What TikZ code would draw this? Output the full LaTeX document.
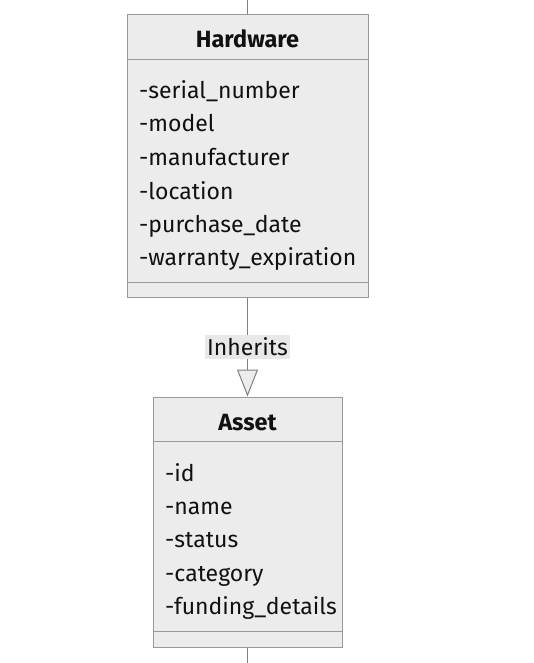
\documentclass[tikz,border=0pt]{standalone}
\usepackage{fontspec}
\setmainfont{Fira Sans}
\usetikzlibrary{arrows.meta}
\definecolor{boxfill}{HTML}{ECECEC}
\definecolor{boxline}{HTML}{9A9A9A}
\definecolor{edgeline}{HTML}{808080}
\definecolor{labelfill}{HTML}{E8E8E8}
\definecolor{txt}{HTML}{111111}
\tikzset{
  classbox/.style={draw=boxline, fill=boxfill, line width=1pt, inner sep=0pt},
  divider/.style={draw=boxline, line width=1pt},
  title/.style={font=\fontsize{23.5}{23.5}\selectfont\bfseries, text=txt, anchor=base, inner sep=0pt},
  attr/.style={font=\fontsize{23}{23}\selectfont, text=txt, anchor=base west, inner sep=0pt},
  edge/.style={draw=edgeline, line width=1pt},
  inh/.style={edge, -{Triangle[length=27pt, width=21pt, fill=boxfill, line width=1pt]}},
  elabel/.style={fill=labelfill, font=\fontsize{23}{23}\selectfont, text=txt, inner xsep=2pt, inner ysep=3pt}
}
\begin{document}
\begin{tikzpicture}[x=1pt, y=-1pt]
\useasboundingbox (0,0) rectangle (534,663);
% Hardware
\node[classbox, minimum width=241pt, minimum height=282pt] (hw) at (247.5,156) {};
\draw[divider] (127,60) -- (368,60);
\draw[divider] (127,282) -- (368,282);
\node[title] (hwt) at (247.5,48) {Hardware};
\node[attr] (a1) at (139,99) {-serial\_number};
\node[attr] (a2) at (139,132) {-model};
\node[attr] (a3) at (139,165.5) {-manufacturer};
\node[attr] (a4) at (139,199) {-location};
\node[attr] (a5) at (139,232) {-purchase\_date};
\node[attr] (a6) at (139,265) {-warranty\_expiration};
% Asset
\node[classbox, minimum width=189pt, minimum height=250pt] (as) at (247.5,522) {};
\draw[divider] (153,441) -- (342,441);
\draw[divider] (153,631) -- (342,631);
\node[title] (ast) at (247.5,430) {Asset};
\node[attr] (b1) at (165,481) {-id};
\node[attr] (b2) at (165,514) {-name};
\node[attr] (b3) at (165,547.5) {-status};
\node[attr] (b4) at (165,581) {-category};
\node[attr] (b5) at (165,614) {-funding\_details};
% connectors
\coordinate (top) at (247.5,0);
\coordinate (bot) at (247.5,663);
\draw[edge] (top) -- (hw.north);
\draw[edge] (as.south) -- (bot);
\draw[inh] (hw.south) -- node[elabel, pos=0.5] (lab) {Inherits} (as.north);
\end{tikzpicture}
\end{document}
